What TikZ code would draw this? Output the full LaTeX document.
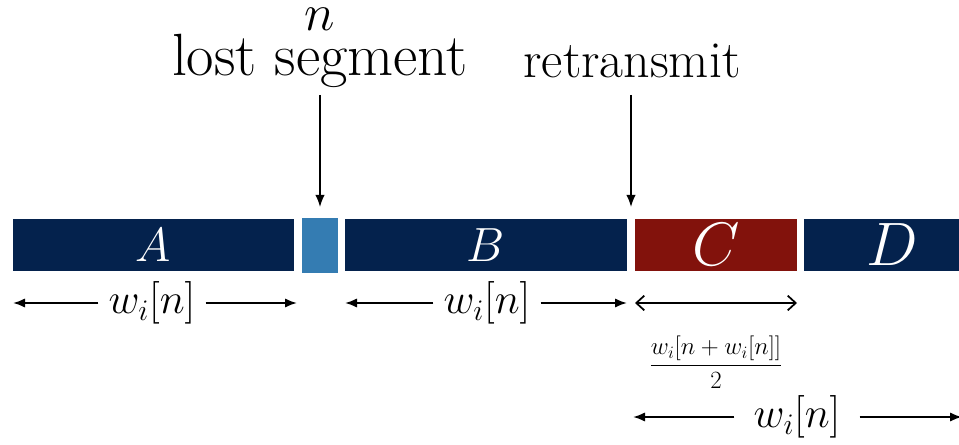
\RequirePackage{fix-cm}
\documentclass[tikz,border=0pt]{standalone}
\usetikzlibrary{arrows.meta}
\definecolor{navy}{RGB}{4,34,77}
\definecolor{lostblue}{RGB}{52,124,178}
\definecolor{retred}{RGB}{130,18,12}
\begin{document}
\begin{tikzpicture}[x=0.75pt,y=-0.75pt,
  bar/.style={draw=none,inner sep=0pt,text=white,minimum height=39pt},
  dimline/.style={line width=1.5pt,-{Latex[length=9pt,width=7pt]}},
  dimopen/.style={line width=1.3pt,{Straight Barb[length=6pt,width=11pt]}-{Straight Barb[length=6pt,width=11pt]}},
  pointer/.style={line width=1.1pt,-{Latex[length=9pt,width=7pt]}},
  wlabel/.style={inner sep=0pt,font=\fontsize{32}{36}\selectfont},
  bigtext/.style={inner sep=0pt,anchor=base}]
\useasboundingbox (0,0) rectangle (959,445);
% bars
\node[bar,fill=navy,minimum width=210.75pt,font=\fontsize{36}{40}\selectfont] (A) at (153.5,245) {$A$};
\node[bar,fill=lostblue,minimum width=27pt,minimum height=41.25pt] (L) at (320,245.5) {};
\node[bar,fill=navy,minimum width=211.5pt,font=\fontsize{36}{40}\selectfont] (B) at (486,245) {$B$};
\node[bar,fill=retred,minimum width=121.5pt,font=\fontsize{46}{50}\selectfont] (C) at (716,245) {$C$};
\node[bar,fill=navy,minimum width=132pt,font=\fontsize{46}{50}\selectfont] (D) at (892,245) {$D$};
% top labels
\node[bigtext,font=\fontsize{39}{44}\selectfont] (n) at (320,31) {$n$};
\node[bigtext,font=\fontsize{44.7}{48}\selectfont] (lost) at (320,76) {lost segment};
\node[bigtext,font=\fontsize{39}{44}\selectfont] (ret) at (632,78) {retransmit};
\coordinate (p1) at (320,95);
\coordinate (p2) at (631,95);
\draw[pointer] (p1) -- (320,207);
\draw[pointer] (p2) -- (631,207);
% dimension A
\node[wlabel] (wa) at (152,303) {$w_i[n]$};
\coordinate (a1) at (13,303);
\coordinate (a2) at (297,303);
\draw[dimline] (wa.west) ++(-10,0) -- (a1);
\draw[dimline] (wa.east) ++(10,0) -- (a2);
% dimension B
\node[wlabel] (wb) at (487,303) {$w_i[n]$};
\coordinate (b1) at (345,303);
\coordinate (b2) at (627,303);
\draw[dimline] (wb.west) ++(-10,0) -- (b1);
\draw[dimline] (wb.east) ++(10,0) -- (b2);
% dimension C
\coordinate (c1) at (635,303);
\coordinate (c2) at (797,303);
\draw[dimopen] (c1) -- (c2);
\node[inner sep=0pt,font=\fontsize{18.6}{22}\selectfont] (frac) at (716,362) {$\displaystyle\frac{w_i[n+w_i[n]]}{2}$};
% bottom dimension
\node[wlabel] (wd) at (797,417) {$w_i[n]$};
\coordinate (d1) at (633,417);
\coordinate (d2) at (962,417);
\draw[dimline] (wd.west) ++(-19,0) -- (d1);
\draw[dimline] (wd.east) ++(19,0) -- (d2);
\end{tikzpicture}
\end{document}
